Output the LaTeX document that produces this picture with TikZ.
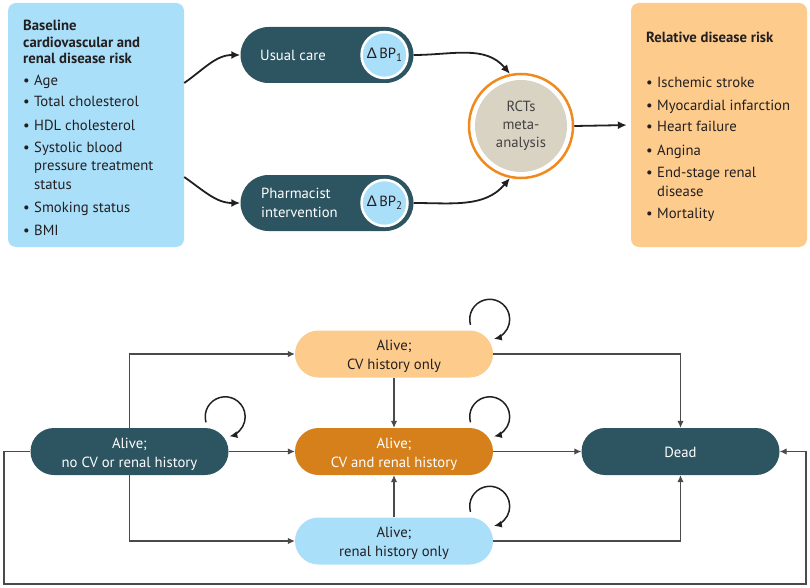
\documentclass[tikz,border=0pt]{standalone}
\usepackage{fontspec}
\setmainfont{PT Sans}
\newfontfamily\gfont{Lato}
\usetikzlibrary{arrows.meta,calc}
\definecolor{teal1}{HTML}{2C5461}
\definecolor{lblue}{HTML}{AADFFA}
\definecolor{lorange}{HTML}{FDCB8C}
\definecolor{dorange}{HTML}{D5801B}
\definecolor{ring}{HTML}{F08A1E}
\definecolor{rgrey}{HTML}{D9D3C3}
\definecolor{txt}{HTML}{231F20}
\definecolor{gline}{HTML}{4A4A4A}
\tikzset{
 tpill/.style={rectangle, rounded corners=28pt, fill=teal1, minimum width=173pt, minimum height=56pt, inner sep=0pt},
 bpill/.style={rectangle, rounded corners=23.5pt, minimum width=198pt, minimum height=47pt, inner sep=0pt},
 btext/.style={align=center, font=\fontsize{14.7}{19}\selectfont, inner sep=0pt},
 bpcirc/.style={circle, fill=lblue, draw=white, line width=2.5pt, minimum size=46pt, inner sep=0pt, text=txt},
 item/.style={anchor=base west, align=left, inner sep=0pt, text=txt},
 bigarrow/.style={line width=1.8pt, draw=txt, -{Latex[length=9pt,width=8pt]}},
 conn/.style={line width=1.1pt, draw=gline, -{Latex[length=7pt,width=6.5pt]}},
 selfloop/.style={line width=1.5pt, draw=txt, -{Latex[length=8pt,width=7pt]}},
}
\newcommand{\bul}{\makebox[11pt][l]{•}}
\newcommand{\ind}{\hspace*{11pt}}
\begin{document}
\begin{tikzpicture}[x=1pt,y=1pt,font=\fontsize{14.7}{17}\selectfont]
\useasboundingbox (0,0) rectangle (810,-588);
% ---------- top part ----------
\node[rectangle, rounded corners=8pt, fill=lblue, minimum width=176pt, minimum height=244pt, inner sep=0pt] (base) at (96,-125) {};
\node[item, font=\bfseries\fontsize{14.7}{16.7}\selectfont] (basehead) at (23,-64) {Baseline\\cardiovascular and\\renal disease risk};
\node[item] (b1) at (23,-86) {\bul Age};
\node[item] (b2) at (23,-107) {\bul Total cholesterol};
\node[item] (b3) at (23,-131) {\bul HDL cholesterol};
\node[item, font=\fontsize{14.7}{18}\selectfont] (b4) at (23,-189) {\bul Systolic blood\\\ind pressure treatment\\\ind status};
\node[item] (b5) at (23,-212) {\bul Smoking status};
\node[item] (b6) at (23,-235) {\bul BMI};

\node[rectangle, rounded corners=8pt, fill=lorange, minimum width=176pt, minimum height=244pt, inner sep=0pt] (risk) at (719,-125) {};
\node[item, font=\bfseries\fontsize{14.7}{16.7}\selectfont] (riskhead) at (646,-43) {Relative disease risk};
\node[item] (r1) at (646,-88) {\bul Ischemic stroke};
\node[item] (r2) at (646,-111) {\bul Myocardial infarction};
\node[item] (r3) at (646,-132) {\bul Heart failure};
\node[item] (r4) at (646,-156) {\bul Angina};
\node[item, font=\fontsize{14.7}{18}\selectfont] (r5) at (646,-196) {\bul End-stage renal\\\ind disease};
\node[item] (r6) at (646,-218) {\bul Mortality};

\node[tpill] (usual) at (327,-55) {};
\node[anchor=west, inner sep=0pt, text=white] (usualtxt) at (260,-55) {Usual care};
\node[bpcirc] (bp1) at (384.5,-55) {{\gfont Δ}\,BP\raisebox{-3pt}{\fontsize{11}{11}\selectfont 1}};

\node[tpill] (pharm) at (327,-203) {};
\node[anchor=west, align=left, inner sep=0pt, text=white, font=\fontsize{14.7}{19}\selectfont] (pharmtxt) at (261,-203) {Pharmacist\\intervention};
\node[bpcirc] (bp2) at (384.5,-203) {{\gfont Δ}\,BP\raisebox{-3pt}{\fontsize{11}{11}\selectfont 2}};

\node[circle, minimum size=104pt, draw=ring, line width=2.5pt, fill=white, inner sep=0pt] (rct) at (521,-126) {};
\node[circle, minimum size=92pt, fill=rgrey, inner sep=0pt, align=center, text=txt!85, font=\fontsize{14.7}{18}\selectfont] (rcttxt) at (rct) {RCTs\\meta-\\analysis};

\draw[bigarrow] ([yshift=42pt]base.east) to[out=35,in=180] (usual.west);
\draw[bigarrow] ([yshift=-52pt]base.east) to[out=-35,in=180] (pharm.west);
\draw[bigarrow] (usual.east) to[out=0,in=130] (rct.102);
\draw[bigarrow] (pharm.east) to[out=0,in=230] (rct.258);
\draw[bigarrow, shorten >=4pt] (rct.east) -- (risk.west);

% ---------- bottom part ----------
\node[bpill, fill=teal1] (nocv) at (129.5,-451.5) {};
\node[btext, text=white] (nocvt) at ([yshift=-2.5pt]nocv.center) {Alive;\\no CV or renal history};
\node[bpill, fill=lorange] (cvh) at (394,-354) {};
\node[btext, text=txt] (cvht) at ([yshift=-2.5pt]cvh.center) {Alive;\\CV history only};
\node[bpill, fill=dorange] (both) at (394,-451.5) {};
\node[btext, text=white] (botht) at ([yshift=-2.5pt]both.center) {Alive;\\CV and renal history};
\node[bpill, fill=lblue] (ren) at (394,-541) {};
\node[btext, text=txt] (rent) at ([yshift=-2.5pt]ren.center) {Alive;\\renal history only};
\node[bpill, fill=teal1] (dead) at (680.5,-451.5) {};
\node[btext, text=white] (deadt) at ([yshift=-1pt]dead.center) {Dead};

\coordinate (o1) at (4,-451.5);
\coordinate (o2) at (4,-584);
\coordinate (o3) at (806,-584);

\draw[conn] (nocv.north) |- (cvh.west);
\draw[conn] (nocv.south) |- (ren.west);
\draw[conn] (nocv.east) -- (both.west);
\draw[conn] (cvh.south) -- (both.north);
\draw[conn] (ren.north) -- (both.south);
\draw[conn] (cvh.east) -| (dead.north);
\draw[conn] (ren.east) -| (dead.south);
\draw[conn] (both.east) -- (dead.west);
\draw[conn] (nocv.west) -- (o1) -- (o2) -- (o3) |- (dead.east);

\draw[selfloop] ([shift={(-3.5,11)}]nocv.north east) ++(196:20) arc[start angle=196, end angle=-78, radius=20];
\draw[selfloop] ([shift={(-3.5,11)}]cvh.north east) ++(196:20) arc[start angle=196, end angle=-78, radius=20];
\draw[selfloop] ([shift={(-3.5,11)}]both.north east) ++(196:20) arc[start angle=196, end angle=-78, radius=20];
\draw[selfloop] ([shift={(-3.5,11)}]ren.north east) ++(196:20) arc[start angle=196, end angle=-78, radius=20];
\end{tikzpicture}
\end{document}
